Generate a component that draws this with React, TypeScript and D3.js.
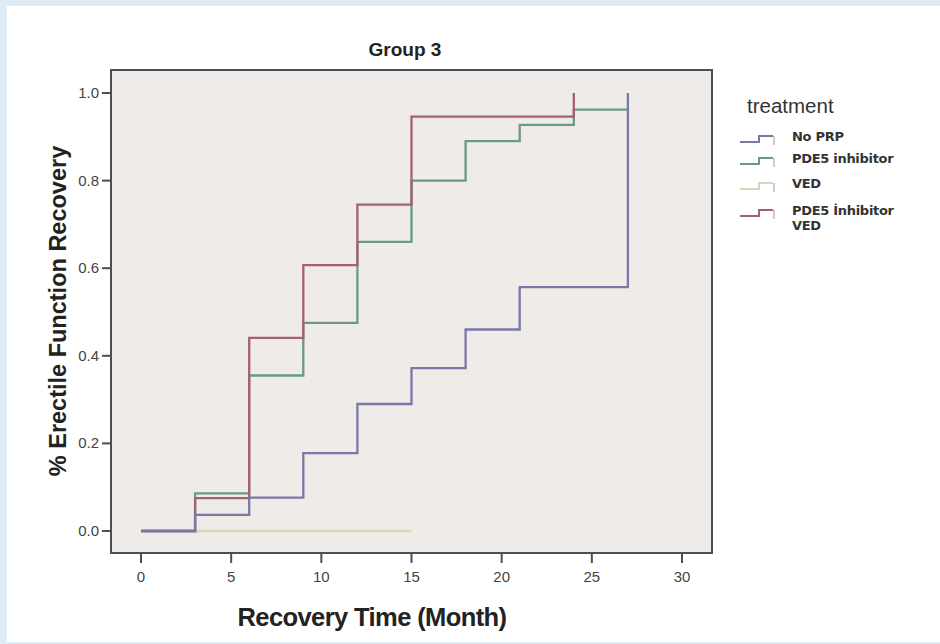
import React from "react";
import * as d3 from "d3";

const xTicks = [0, 5, 10, 15, 20, 25, 30];
const yTicks = [0, 0.2, 0.4, 0.6, 0.8, 1.0];

const seriesNames = ["No PRP", "PDE5 inhibitor", "VED", "PDE5 İnhibitor VED"];
const seriesColors = ["#7b78a8", "#6a9a87", "#dcd4b6", "#a5616d"];

const noPrpTimes = [0, 3, 6, 9, 12, 15, 18, 21, 27];
const noPrpValues = [0, 0.037, 0.076, 0.178, 0.29, 0.372, 0.46, 0.557, 1.0];
const pde5Times = [0, 3, 6, 9, 12, 15, 18, 21, 24, 27];
const pde5Values = [0, 0.086, 0.355, 0.475, 0.66, 0.8, 0.89, 0.927, 0.962, 0.962];
const vedTimes = [0, 15];
const vedValues = [0, 0];
const comboTimes = [0, 3, 6, 9, 12, 15, 24];
const comboValues = [0, 0.075, 0.441, 0.607, 0.745, 0.946, 1.0];

const seriesData = [
  { times: noPrpTimes, values: noPrpValues },
  { times: pde5Times, values: pde5Values },
  { times: vedTimes, values: vedValues },
  { times: comboTimes, values: comboValues },
];

export default function App() {
  const x = d3.scaleLinear().domain([0, 30]).range([141, 682]);
  const y = d3.scaleLinear().domain([0, 1]).range([531, 93]);
  const line = d3
    .line<[number, number]>()
    .x((d) => x(d[0]))
    .y((d) => y(d[1]))
    .curve(d3.curveStepAfter);

  const frame = { left: 111, top: 70, right: 712, bottom: 553 };
  const drawOrder = [2, 1, 3, 0];

  const legendRows = [
    { idx: 0, base: 141, lines: ["No PRP"] },
    { idx: 1, base: 163, lines: ["PDE5 inhibitor"] },
    { idx: 2, base: 188, lines: ["VED"] },
    { idx: 3, base: 215, lines: ["PDE5 İnhibitor", "VED"] },
  ];

  return (
    <svg
      width={940}
      height={644}
      style={{ position: "absolute", left: 0, top: 0, display: "block" }}
      fontFamily="'Liberation Sans', Arial, sans-serif"
    >
      <rect x={0} y={0} width={940} height={644} fill="#dcebf5" />
      <rect x={7} y={6} width={933} height={636} fill="#ffffff" />
      <text x={405} y={56} textAnchor="middle" fontSize={19} fontWeight="bold" fill="#222">
        Group 3
      </text>
      <rect
        x={frame.left}
        y={frame.top}
        width={frame.right - frame.left}
        height={frame.bottom - frame.top}
        fill="#efebe8"
        stroke="#4f4f4f"
        strokeWidth={2}
      />
      {yTicks.map((t) => (
        <g key={"y" + t}>
          <line x1={frame.left - 9} x2={frame.left} y1={y(t)} y2={y(t)} stroke="#4f4f4f" strokeWidth={2} />
          <text x={frame.left - 12} y={y(t) + 5} textAnchor="end" fontSize={15} fill="#444">
            {d3.format(".1f")(t)}
          </text>
        </g>
      ))}
      {xTicks.map((t) => (
        <g key={"x" + t}>
          <line x1={x(t)} x2={x(t)} y1={frame.bottom} y2={frame.bottom + 10} stroke="#4f4f4f" strokeWidth={2} />
          <text x={x(t)} y={582} textAnchor="middle" fontSize={15} fill="#444">
            {t}
          </text>
        </g>
      ))}
      {drawOrder.map((i) => {
        const s = seriesData[i];
        const pts: [number, number][] = s.times.map((t, k) => [t, s.values[k]]);
        return (
          <path
            key={"s" + i}
            d={line(pts) || ""}
            fill="none"
            stroke={seriesColors[i]}
            strokeWidth={2.3}
          />
        );
      })}
      <text
        transform="translate(66,311) rotate(-90)"
        textAnchor="middle"
        fontSize={23.5}
        fontWeight="bold"
        fill="#222"
      >
        % Erectile Function Recovery
      </text>
      <text x={372} y={626} textAnchor="middle" fontSize={25.5} fontWeight="bold" fill="#222" letterSpacing={-0.6}>
        Recovery Time (Month)
      </text>
      <text x={747} y={113} fontSize={20.5} fill="#333">
        treatment
      </text>
      {legendRows.map((r) => (
        <g key={"l" + r.idx}>
          <path
            d={`M740,${r.base + 1} H759 V${r.base - 5} H773`}
            fill="none"
            stroke={seriesColors[r.idx]}
            strokeWidth={2}
          />
          <line x1={774} x2={774} y1={r.base - 5} y2={r.base + 4} stroke="#bbb" strokeWidth={1.5} />
          {r.lines.map((ln, k) => (
            <text
              key={k}
              x={792}
              y={r.base + k * 15}
              fontSize={13}
              fontWeight="bold"
              fill="#333"
              fontFamily="'DejaVu Sans', sans-serif"
              letterSpacing={-0.3}
            >
              {ln}
            </text>
          ))}
        </g>
      ))}
    </svg>
  );
}
